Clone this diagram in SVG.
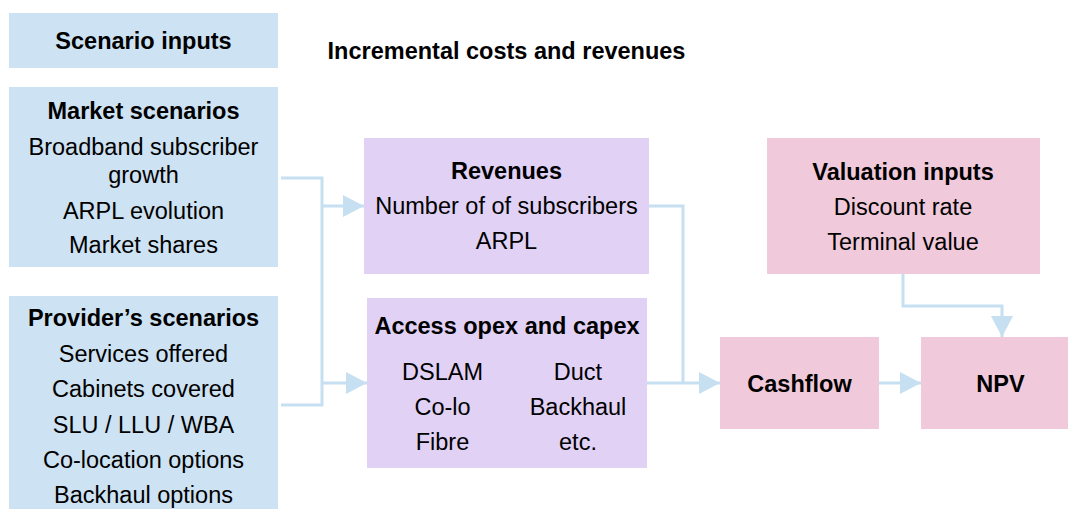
<svg xmlns="http://www.w3.org/2000/svg" width="1068" height="509" viewBox="0 0 1068 509">
<style>
text{font-family:"Liberation Sans",Arial,Helvetica,sans-serif;font-size:23.5px;fill:#000;text-anchor:middle}
.b{font-weight:bold}
.blue{fill:#cde2f2}
.purple{fill:#e1d2f5}
.pink{fill:#f0cadb}
.con{fill:none;stroke:#c6dff1;stroke-width:3}
</style>
<defs>
<marker id="arr" markerUnits="userSpaceOnUse" markerWidth="22" markerHeight="22" refX="21" refY="11" orient="auto">
<path d="M0,0 L21,11 L0,22 Z" fill="#c6dff1"/>
</marker>
</defs>
<rect width="1068" height="509" fill="#fff"/>
<text class="b" x="506.5" y="59">Incremental costs and revenues</text>
<g id="connectors">
<path class="con" d="M281,178 H322 V405 H281"/>
<path class="con" d="M322,206 H364" marker-end="url(#arr)"/>
<path class="con" d="M322,383 H367" marker-end="url(#arr)"/>
<path class="con" d="M649,206 H683 V383"/>
<path class="con" d="M647,383 H720" marker-end="url(#arr)"/>
<path class="con" d="M879,383 H921" marker-end="url(#arr)"/>
<path class="con" d="M903,274 V306 H1002 V337" marker-end="url(#arr)"/>
</g>
<g id="scenario-inputs">
<rect class="blue" x="9" y="13" width="269" height="55"/>
<text class="b" x="143.5" y="49">Scenario inputs</text>
</g>
<g id="market-scenarios">
<rect class="blue" x="9" y="87" width="269" height="180"/>
<text class="b" x="143.5" y="119">Market scenarios</text>
<text x="143.5" y="155">Broadband subscriber</text>
<text x="143.5" y="183">growth</text>
<text x="143.5" y="219">ARPL evolution</text>
<text x="143.5" y="253">Market shares</text>
</g>
<g id="providers-scenarios">
<rect class="blue" x="9" y="296" width="269" height="220"/>
<text class="b" x="143.5" y="326">Provider’s scenarios</text>
<text x="143.5" y="362">Services offered</text>
<text x="143.5" y="397">Cabinets covered</text>
<text x="143.5" y="433">SLU / LLU / WBA</text>
<text x="143.5" y="468">Co-location options</text>
<text x="143.5" y="503">Backhaul options</text>
</g>
<g id="revenues">
<rect class="purple" x="364" y="138" width="285" height="136"/>
<text class="b" x="506.5" y="179">Revenues</text>
<text x="506.5" y="214">Number of of subscribers</text>
<text x="506.5" y="249">ARPL</text>
</g>
<g id="access-opex-capex">
<rect class="purple" x="367" y="298" width="280" height="170"/>
<text class="b" x="507" y="334">Access opex and capex</text>
<text x="442.5" y="380">DSLAM</text>
<text x="442.5" y="415">Co-lo</text>
<text x="442.5" y="450">Fibre</text>
<text x="578" y="380">Duct</text>
<text x="578" y="415">Backhaul</text>
<text x="578" y="450">etc.</text>
</g>
<g id="valuation-inputs">
<rect class="pink" x="767" y="138" width="273" height="136"/>
<text class="b" x="903" y="180">Valuation inputs</text>
<text x="903" y="215">Discount rate</text>
<text x="903" y="250">Terminal value</text>
</g>
<g id="cashflow">
<rect class="pink" x="720" y="337" width="159" height="92"/>
<text class="b" x="799.5" y="392">Cashflow</text>
</g>
<g id="npv">
<rect class="pink" x="921" y="337" width="160" height="92"/>
<text class="b" x="1000.5" y="392">NPV</text>
</g>
</svg>
